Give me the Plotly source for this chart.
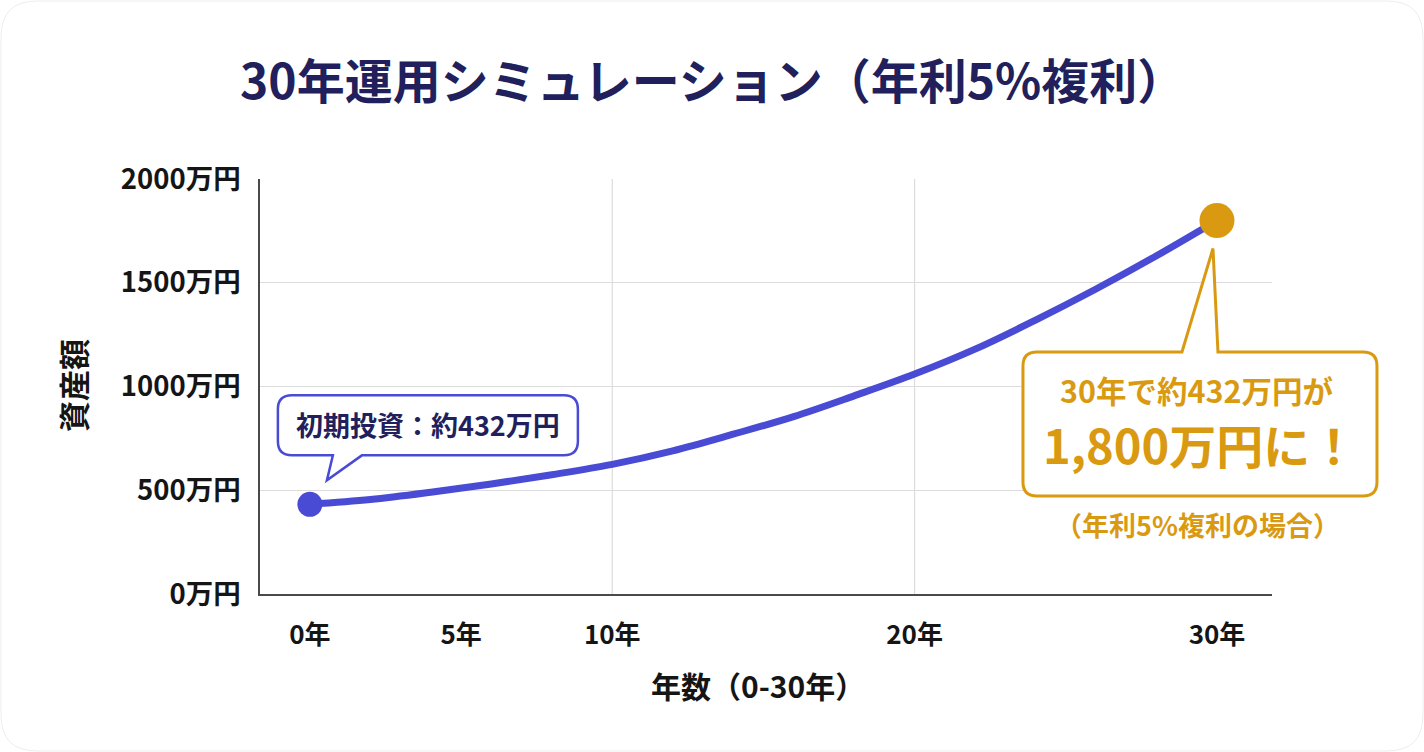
import plotly.graph_objects as go

# ---------------- data ----------------
years = [0, 2, 4, 6, 8, 10, 12, 14, 16, 18, 20, 22, 24, 26, 28, 30]
assets = [432, 455, 490, 530, 575, 625, 690, 770, 855, 955, 1060, 1180, 1320, 1470, 1630, 1800]
x_tick_vals = [0, 5, 10, 20, 30]
x_tick_text = ["0年", "5年", "10年", "20年", "30年"]
y_tick_vals = [0, 500, 1000, 1500, 2000]
y_tick_text = ["0万円", "500万円", "1000万円", "1500万円", "2000万円"]
x_grid_years = [10, 20]

title_text = "30年運用シミュレーション（年利5%複利）"
x_title = "年数（0-30年）"
y_title = "資産額"
start_label = "初期投資：約432万円"
end_line1 = "30年で約432万円が"
end_line2 = "1,800万円に！"
end_note = "（年利5%複利の場合）"

# ---------------- style ----------------
W, H = 1424, 752
L, R, T, B = 260, 1272, 179, 594
X0, X1 = -1.65, 31.82
Y0, Y1 = 0, 2000
FONT = "Noto Sans CJK JP"
BLUE = "#4a4bd4"
GOLD = "#d99a12"
NAVY = "#211f5c"
DARK = "#151515"


def pxx(p):
    return (p - L) / (R - L)


def pxy(p):
    return (B - p) / (B - T)


def dx(t):
    return L + (t - X0) / (X1 - X0) * (R - L)


def dy(v):
    return B - (v - Y0) / (Y1 - Y0) * (B - T)


def callout_path(left, top, right, bottom, r, tail, side):
    """Rounded box with a pointed tail; coordinates in pixels -> paper."""
    def P(x, y):
        return f"{pxx(x):.5f},{pxy(y):.5f}"
    (bx1, tx, ty, bx2) = tail
    s = f"M{P(left + r, top)} "
    if side == "top":
        s += f"L{P(bx1, top)} L{P(tx, ty)} L{P(bx2, top)} "
    s += f"L{P(right - r, top)} Q{P(right, top)} {P(right, top + r)} "
    s += f"L{P(right, bottom - r)} Q{P(right, bottom)} {P(right - r, bottom)} "
    if side == "bottom":
        s += f"L{P(bx2, bottom)} L{P(tx, ty)} L{P(bx1, bottom)} "
    s += f"L{P(left + r, bottom)} Q{P(left, bottom)} {P(left, bottom - r)} "
    s += f"L{P(left, top + r)} Q{P(left, top)} {P(left + r, top)} Z"
    return s


fig = go.Figure()

fig.add_trace(go.Scatter(
    x=years, y=assets, mode="lines",
    line=dict(color=BLUE, width=7, shape="spline", smoothing=1.0),
    hoverinfo="skip", showlegend=False,
))
fig.add_trace(go.Scatter(
    x=[years[0]], y=[assets[0]], mode="markers",
    marker=dict(color=BLUE, size=25), showlegend=False, hoverinfo="skip",
))
fig.add_trace(go.Scatter(
    x=[years[-1]], y=[assets[-1]], mode="markers",
    marker=dict(color=GOLD, size=35), showlegend=False, hoverinfo="skip",
))

shapes = []
# vertical gridlines
for g in x_grid_years:
    shapes.append(dict(type="line", xref="x", yref="paper", x0=g, x1=g, y0=0, y1=1,
                       line=dict(color="#dcdcdc", width=1.2), layer="below"))

# start callout (anchored to first point)
sx, sy = dx(years[0]) + 17, dy(assets[0]) - 24
s_left, s_right = sx - 49, sx + 251
s_bottom = sy - 25
s_top = s_bottom - 60
shapes.append(dict(type="path", xref="paper", yref="paper",
                   path=callout_path(s_left, s_top, s_right, s_bottom, 14,
                                     (sx + 6, sx, sy, sx + 35), "bottom"),
                   fillcolor="white", line=dict(color=BLUE, width=2.5), layer="above"))

# end callout (anchored to last point)
ex, ey = dx(years[-1]) - 4, dy(assets[-1]) + 28
e_top = ey + 103.5
e_bottom = e_top + 144
e_left, e_right = ex - 190, ex + 164
shapes.append(dict(type="path", xref="paper", yref="paper",
                   path=callout_path(e_left, e_top, e_right, e_bottom, 14,
                                     (ex - 31, ex, ey, ex + 5), "top"),
                   fillcolor="white", line=dict(color=GOLD, width=3), layer="above"))

# card border
cr = 36
shapes.append(dict(type="path", xref="paper", yref="paper",
                   path=callout_path(1, 1, W - 1, H - 1, cr, (0, 0, 0, 0), "none"),
                   line=dict(color="#ededed", width=1), layer="below"))

annotations = [
    dict(text=title_text, x=pxx(712), y=pxy(78), xref="paper", yref="paper",
         showarrow=False, xanchor="center", yanchor="middle",
         font=dict(family=FONT, size=48, color=NAVY, weight="bold")),
    dict(text=x_title, x=pxx(758), y=pxy(685), xref="paper", yref="paper",
         showarrow=False, xanchor="center", yanchor="middle",
         font=dict(family=FONT, size=30, color=DARK, weight="bold")),
    dict(text=y_title, x=pxx(72), y=pxy(386), xref="paper", yref="paper",
         showarrow=False, xanchor="center", yanchor="middle", textangle=-90,
         font=dict(family=FONT, size=31, color=DARK, weight="bold")),
    dict(text=start_label, x=pxx((s_left + s_right) / 2), y=pxy((s_top + s_bottom) / 2 - 1),
         xref="paper", yref="paper", showarrow=False, xanchor="center", yanchor="middle",
         font=dict(family=FONT, size=27, color=NAVY, weight="bold")),
    dict(text=end_line1, x=pxx((e_left + e_right) / 2 - 3), y=pxy(e_top + 38),
         xref="paper", yref="paper", showarrow=False, xanchor="center", yanchor="middle",
         font=dict(family=FONT, size=30.5, color=GOLD, weight="bold")),
    dict(text=end_line2, x=pxx((e_left + e_right) / 2), y=pxy(e_top + 91),
         xref="paper", yref="paper", showarrow=False, xanchor="center", yanchor="middle",
         font=dict(family=FONT, size=47, color=GOLD, weight="bold")),
    dict(text=end_note, x=pxx((e_left + e_right) / 2 - 2), y=pxy(e_bottom + 28),
         xref="paper", yref="paper", showarrow=False, xanchor="center", yanchor="middle",
         font=dict(family=FONT, size=27, color=GOLD, weight="bold")),
]

fig.update_layout(
    width=W, height=H,
    margin=dict(l=L, r=W - R, t=T, b=H - B, pad=0),
    paper_bgcolor="white", plot_bgcolor="white",
    shapes=shapes, annotations=annotations,
    font=dict(family=FONT, color=DARK),
    showlegend=False,
)
fig.update_xaxes(
    range=[X0, X1], tickvals=x_tick_vals, ticktext=x_tick_text,
    showgrid=False, zeroline=False, showline=True, linecolor="#4a4a4a", linewidth=1.5,
    ticks="", ticklabelstandoff=17,
    tickfont=dict(family=FONT, size=26, color=DARK, weight="bold"),
)
fig.update_yaxes(
    range=[Y0, Y1], tickvals=y_tick_vals, ticktext=y_tick_text,
    showgrid=True, gridcolor="#dcdcdc", gridwidth=1.2, zeroline=False,
    showline=True, linecolor="#4a4a4a", linewidth=1.5,
    ticks="", ticklabelstandoff=12,
    tickfont=dict(family=FONT, size=27.5, color=DARK, weight="bold"),
)

fig.write_html("out.html")
